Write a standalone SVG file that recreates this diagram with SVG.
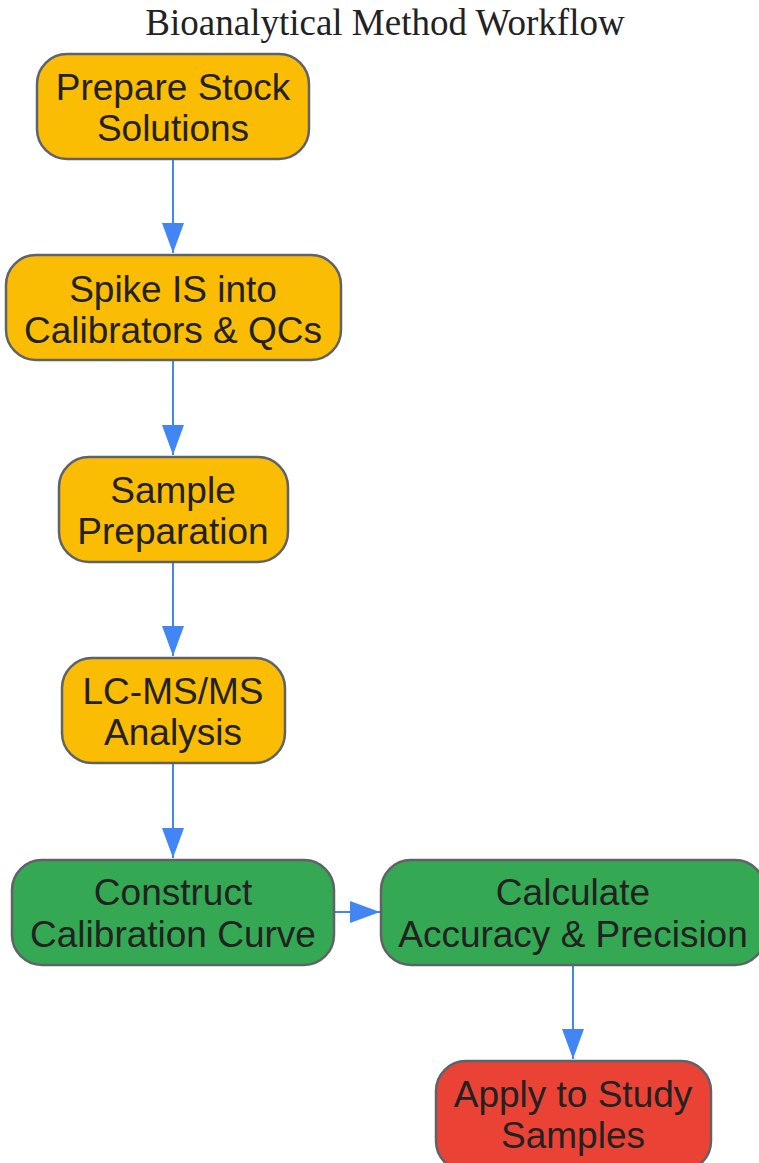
<svg xmlns="http://www.w3.org/2000/svg" width="759" height="1163" viewBox="0 0 759 1163">
<style>
.n rect{stroke:#5f6368;stroke-width:2.5}
.y{fill:#FBBC04}.g{fill:#34A853}.r{fill:#EA4335}
.n text{font-family:"Liberation Sans",Arial,sans-serif;font-size:37px;fill:#222;text-anchor:middle}
.c line{stroke:#4285F4;stroke-width:2}
.t{font-family:"Liberation Serif","Times New Roman",serif;font-size:37px;fill:#222;text-anchor:middle}
</style>
<defs>
<marker id="ah" markerWidth="30" markerHeight="22" refX="30" refY="11" viewBox="0 0 30 22" orient="auto" markerUnits="userSpaceOnUse">
<path d="M0,0 L30,11 L0,22 Z" fill="#4285F4"/>
</marker>
</defs>
<rect width="759" height="1163" fill="#fff"/>
<text class="t" x="385" y="35">Bioanalytical Method Workflow</text>
<g class="c">
<line x1="173" y1="159" x2="173" y2="253" marker-end="url(#ah)"/>
<line x1="173" y1="360" x2="173" y2="455" marker-end="url(#ah)"/>
<line x1="173" y1="562" x2="173" y2="656" marker-end="url(#ah)"/>
<line x1="173" y1="763" x2="173" y2="858" marker-end="url(#ah)"/>
<line x1="334" y1="912" x2="380" y2="912" marker-end="url(#ah)"/>
<line x1="573" y1="965" x2="573" y2="1059" marker-end="url(#ah)"/>
</g>
<g id="n1" class="n"><rect class="y" x="37" y="54" width="272" height="105" rx="30"/><text x="173" y="100">Prepare Stock</text><text x="173" y="141">Solutions</text></g>
<g id="n2" class="n"><rect class="y" x="6" y="255" width="335" height="105" rx="30"/><text x="173" y="302">Spike IS into</text><text x="173" y="343">Calibrators &amp; QCs</text></g>
<g id="n3" class="n"><rect class="y" x="59" y="457" width="229" height="105" rx="30"/><text x="173" y="503">Sample</text><text x="173" y="544">Preparation</text></g>
<g id="n4" class="n"><rect class="y" x="62" y="658" width="223" height="105" rx="30"/><text x="173" y="704">LC-MS/MS</text><text x="173" y="745">Analysis</text></g>
<g id="n5" class="n"><rect class="g" x="12" y="860" width="322" height="105" rx="30"/><text x="173" y="905">Construct</text><text x="173" y="947">Calibration Curve</text></g>
<g id="n6" class="n"><rect class="g" x="381" y="860" width="384" height="105" rx="30"/><text x="573" y="905">Calculate</text><text x="573" y="947">Accuracy &amp; Precision</text></g>
<g id="n7" class="n"><rect class="r" x="436" y="1061" width="275" height="110" rx="30"/><text x="573" y="1107">Apply to Study</text><text x="573" y="1148">Samples</text></g>
</svg>
